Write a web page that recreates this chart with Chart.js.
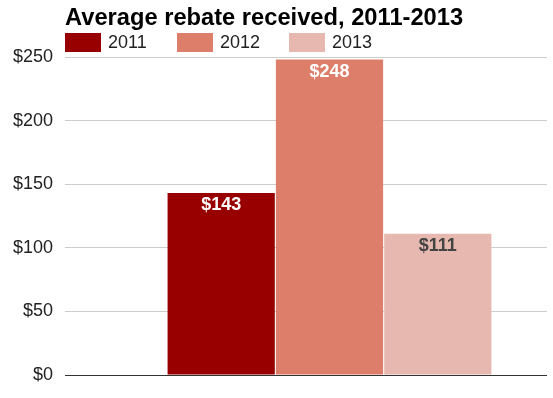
<!DOCTYPE html>
<html><head><meta charset="utf-8">
<script src="https://cdn.jsdelivr.net/npm/chart.js@4"></script>
<style>html,body{margin:0;padding:0;background:#fff}#wrap{width:553px;height:398px}</style>
</head><body><div id="wrap"><canvas id="c"></canvas></div>
<script>
const titleText = "Average rebate received, 2011-2013";
const categories = [""];
const seriesNames = ["2011", "2012", "2013"];
const seriesValues = [[143], [248], [111]];
const seriesColors = ["#980000", "#dd7e6b", "#e6b8af"];
const labelColors = ["#ffffff", "#ffffff", "#444444"];
const yTicks = [0, 50, 100, 150, 200, 250];
const FONT = "'Liberation Sans', Arial, sans-serif";

const overlay = {
  id: 'overlay',
  afterDraw(chart) {
    const ctx = chart.ctx;
    const left = 65;
    ctx.save();
    // title
    ctx.fillStyle = '#000';
    ctx.font = "bold 23.7px " + FONT;
    ctx.textBaseline = 'alphabetic';
    ctx.textAlign = 'left';
    ctx.fillText(titleText, left, 25);
    // legend
    ctx.font = "18px " + FONT;
    ctx.textBaseline = 'middle';
    let x = left;
    chart.data.datasets.forEach((ds, i) => {
      ctx.fillStyle = ds.backgroundColor;
      ctx.fillRect(x, 33, 36, 19);
      ctx.fillStyle = '#222';
      ctx.fillText(ds.label, x + 43, 43);
      x += 112;
    });
    // data labels
    ctx.font = "bold 18px " + FONT;
    ctx.textAlign = 'center';
    chart.data.datasets.forEach((ds, i) => {
      const meta = chart.getDatasetMeta(i);
      meta.data.forEach((bar, j) => {
        ctx.fillStyle = labelColors[i];
        ctx.fillText('$' + ds.data[j], bar.x, bar.y + 12);
      });
    });
    ctx.restore();
  }
};

new Chart(document.getElementById('c'), {
  type: 'bar',
  data: {
    labels: categories,
    datasets: seriesNames.map((n, i) => ({
      label: n,
      data: seriesValues[i],
      backgroundColor: seriesColors[i],
      borderWidth: 0,
      barPercentage: 0.99,
      categoryPercentage: 0.747
    }))
  },
  options: {
    responsive: true,
    maintainAspectRatio: false,
    animation: false,
    layout: { padding: { top: 57, bottom: 23, right: 6, left: 0 } },
    plugins: { legend: { display: false }, title: { display: false }, tooltip: { enabled: false } },
    scales: {
      x: { display: false },
      y: {
        min: 0, max: 250,
        afterFit: s => { s.width = 112; },
        afterBuildTicks: s => { s.ticks = yTicks.map(v => ({ value: v })); },
        border: { display: false },
        grid: {
          drawTicks: true,
          tickLength: 47,
          color: c => (c.tick && c.tick.value === 0) ? '#333333' : '#cccccc',
          lineWidth: 1
        },
        ticks: {
          padding: 12,
          color: '#222',
          font: { family: FONT, size: 18 },
          callback: v => '$' + v
        }
      }
    }
  },
  plugins: [overlay]
});
</script></body></html>
